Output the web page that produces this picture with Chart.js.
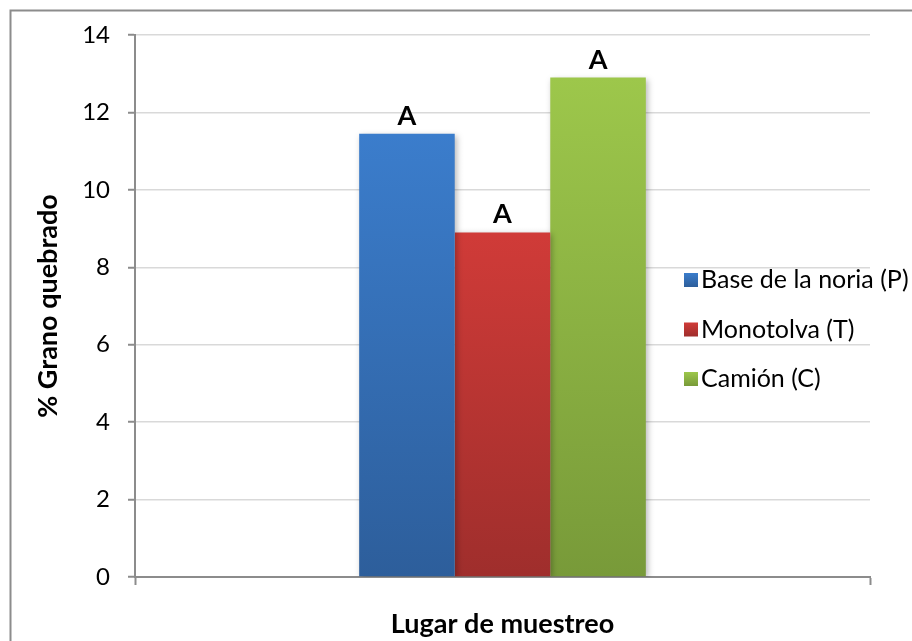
<!DOCTYPE html>
<html>
<head>
<meta charset="utf-8">
<script src="https://cdn.jsdelivr.net/npm/chart.js@4/dist/chart.umd.min.js"></script>
<style>
  html, body { margin: 0; padding: 0; background: #ffffff; }
  #wrap { width: 912px; height: 641px; position: relative; overflow: hidden; }
</style>
</head>
<body>
<div id="wrap"><canvas id="c" width="912" height="641"></canvas></div>
<script>
// Sampling point (single category) and the three sampling locations
const categories = [''];
const seriesNames = ['Base de la noria (P)', 'Monotolva (T)', 'Camión (C)'];
const seriesValues = [11.45, 8.9, 12.9];
const seriesLetters = ['A', 'A', 'A'];
const yTicks = [0, 2, 4, 6, 8, 10, 12, 14];

// Top / bottom colours of each bar's vertical gradient
const topColors = ['#3b7dcc', '#d03b38', '#9dc74b'];
const bottomColors = ['#2d5e9b', '#9f2e2c', '#789a39'];

const FONT = 'Lato, "Open Sans", "Liberation Sans", sans-serif';

function barGradient(ctx, i) {
  const chart = ctx.chart;
  if (!chart.chartArea) return topColors[i];
  const y = chart.scales.y;
  const v = chart.data.datasets[i].data[0];
  const top = y.getPixelForValue(v);
  const base = y.getPixelForValue(0);
  const g = chart.ctx.createLinearGradient(0, top, 0, base);
  g.addColorStop(0, topColors[i]);
  g.addColorStop(1, bottomColors[i]);
  return g;
}

const datasets = seriesNames.map((name, i) => ({
  label: name,
  data: [seriesValues[i]],
  backgroundColor: (ctx) => barGradient(ctx, i),
  borderWidth: 0,
  categoryPercentage: 0.39,
  barPercentage: 1.0
}));

// White page background and the outer frame
const framePlugin = {
  id: 'frame',
  beforeDraw(chart) {
    const c = chart.ctx;
    c.save();
    c.fillStyle = '#ffffff';
    c.fillRect(0, 0, chart.width, chart.height);
    c.strokeStyle = '#8c8c8c';
    c.lineWidth = 2;
    c.strokeRect(10.5, 10.5, chart.width + 20, chart.height + 20);
    c.restore();
  }
};

// Soft drop shadow under the bars
const shadowPlugin = {
  id: 'barShadow',
  beforeDatasetsDraw(chart) {
    const c = chart.ctx;
    c.save();
    c.shadowColor = 'rgba(0,0,0,0.28)';
    c.shadowBlur = 6;
    c.shadowOffsetX = 2;
    c.shadowOffsetY = 2;
  },
  afterDatasetsDraw(chart) {
    chart.ctx.restore();
  }
};

// Significance letters above each bar
const letterPlugin = {
  id: 'letters',
  afterDatasetsDraw(chart) {
    const c = chart.ctx;
    c.save();
    c.font = 'bold 27px ' + FONT;
    c.fillStyle = '#000000';
    c.textAlign = 'center';
    c.textBaseline = 'alphabetic';
    chart.data.datasets.forEach((ds, i) => {
      const bar = chart.getDatasetMeta(i).data[0];
      c.fillText(seriesLetters[i], bar.x, bar.y - 9);
    });
    c.restore();
  }
};

// Legend keys and names drawn inside the plot's right side
const legendPlugin = {
  id: 'sideLegend',
  afterDraw(chart) {
    const c = chart.ctx;
    c.save();
    c.font = '25px ' + FONT;
    c.textBaseline = 'middle';
    c.textAlign = 'left';
    const x0 = 684, y0 = 280, step = 49.5, box = 14;
    chart.data.datasets.forEach((ds, i) => {
      const y = y0 + i * step;
      const g = c.createLinearGradient(0, y - box / 2, 0, y + box / 2);
      g.addColorStop(0, topColors[i]);
      g.addColorStop(1, bottomColors[i]);
      c.fillStyle = g;
      c.fillRect(x0, y - box / 2, box, box);
      c.fillStyle = '#000000';
      c.fillText(ds.label, x0 + 17, y);
    });
    c.restore();
  }
};

new Chart(document.getElementById('c'), {
  type: 'bar',
  data: { labels: categories, datasets },
  options: {
    responsive: false,
    animation: false,
    devicePixelRatio: 1,
    layout: { padding: { top: 35, right: 42, bottom: 0, left: 0 } },
    plugins: {
      legend: { display: false },
      tooltip: { enabled: false }
    },
    scales: {
      x: {
        offset: true,
        grid: {
          display: true,
          drawOnChartArea: false,
          drawTicks: true,
          tickLength: 8,
          tickColor: '#8c8c8c',
          tickWidth: 2,
          offset: true
        },
        border: { display: true, color: '#8c8c8c', width: 2 },
        ticks: { display: false },
        title: {
          display: true,
          text: 'Lugar de muestreo',
          color: '#000000',
          font: { family: FONT, size: 27, weight: 'bold' },
          padding: { top: 0, bottom: 1 }
        },
        afterFit(scale) { scale.height = 64; }
      },
      y: {
        min: 0,
        max: 14,
        afterBuildTicks(scale) { scale.ticks = yTicks.map(v => ({ value: v })); },
        grid: {
          color: '#d9d9d9',
          lineWidth: 1.5,
          drawTicks: true,
          tickLength: 7,
          tickColor: '#8c8c8c',
          tickWidth: 2
        },
        border: { display: true, color: '#8c8c8c', width: 2 },
        ticks: {
          color: '#000000',
          padding: 18,
          font: { family: FONT, size: 24 }
        },
        title: {
          display: true,
          text: '% Grano quebrado',
          color: '#000000',
          font: { family: FONT, size: 27, weight: 'bold' },
          padding: { top: 32, bottom: 0 }
        },
        afterFit(scale) { scale.width = 135; }
      }
    }
  },
  plugins: [framePlugin, shadowPlugin, letterPlugin, legendPlugin]
});
</script>
</body>
</html>
